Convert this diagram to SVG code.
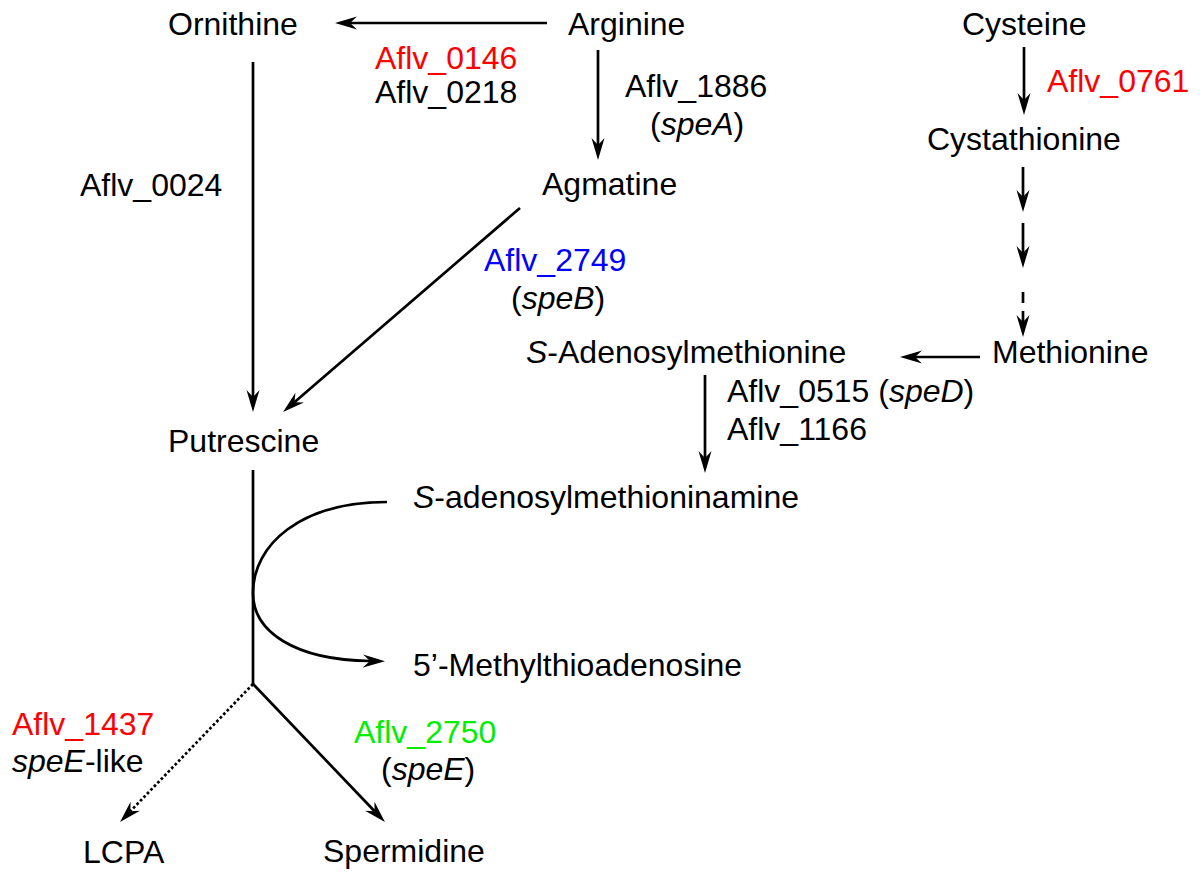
<svg xmlns="http://www.w3.org/2000/svg" width="1200" height="876" viewBox="0 0 1200 876">
<style>
text{font-family:"Liberation Sans",Arial,Helvetica,sans-serif;font-size:32px;fill:#000}
.red{fill:#ff0000}.blue{fill:#0000ff}.green{fill:#00ee00}
.i{font-style:italic}
.c{fill:none;stroke:#000;stroke-width:2.7}
.a{marker-end:url(#ah)}
.dot{stroke-dasharray:2.7 2.3}
</style>
<defs>
<marker id="ah" markerUnits="userSpaceOnUse" markerWidth="26" markerHeight="16" viewBox="0 -8 26 16" refX="7" refY="0" orient="auto">
<path d="M0,-6.5 L22,0 L0,6.5 L7,0 Z" fill="#000"/>
</marker>
</defs>
<rect width="1200" height="876" fill="#fff"/>
<g id="connectors">
<line class="c a" x1="547" y1="23" x2="350" y2="23"/>
<line class="c a" x1="253" y1="62" x2="253" y2="397"/>
<line class="c a" x1="598" y1="50" x2="598" y2="145"/>
<line class="c a" x1="520" y1="208" x2="294.4" y2="402.2"/>
<line class="c a" x1="1024" y1="47" x2="1024" y2="100"/>
<line class="c a" x1="1023" y1="167" x2="1023" y2="197"/>
<line class="c a" x1="1023" y1="223" x2="1023" y2="253"/>
<line class="c" x1="1023" y1="292" x2="1023" y2="303"/>
<line class="c a" x1="1023" y1="311" x2="1023" y2="322"/>
<line class="c a" x1="980" y1="357" x2="915" y2="357"/>
<line class="c a" x1="705" y1="375" x2="705" y2="458"/>
<line class="c" x1="253" y1="470" x2="253" y2="685"/>
<path class="c a" d="M387,502 C300,502 253,545 253,593 C253,632 295,660 370,661"/>
<line class="c a" x1="253" y1="684" x2="374.6" y2="811.2"/>
<line class="c a dot" x1="253" y1="684" x2="130.4" y2="811.2"/>
</g>
<g id="ornithine"><text x="168" y="35">Ornithine</text></g>
<g id="arginine"><text x="568" y="35">Arginine</text></g>
<g id="cysteine"><text x="962" y="35">Cysteine</text></g>
<g id="label-0146-0218"><text class="red" x="375" y="69">Aflv_0146</text><text x="375" y="103">Aflv_0218</text></g>
<g id="label-1886"><text x="625" y="97">Aflv_1886</text><text x="650" y="135">(<tspan class="i">speA</tspan>)</text></g>
<g id="label-0761"><text class="red" x="1047" y="92">Aflv_0761</text></g>
<g id="cystathionine"><text x="927" y="150">Cystathionine</text></g>
<g id="agmatine"><text x="542" y="195">Agmatine</text></g>
<g id="label-0024"><text x="80" y="196">Aflv_0024</text></g>
<g id="label-2749"><text class="blue" x="484" y="271">Aflv_2749</text><text x="511" y="309">(<tspan class="i">speB</tspan>)</text></g>
<g id="sam"><text x="526" y="363"><tspan class="i">S</tspan>-Adenosylmethionine</text></g>
<g id="methionine"><text x="992" y="363">Methionine</text></g>
<g id="label-0515-1166"><text x="727" y="402">Aflv_0515 (<tspan class="i">speD</tspan>)</text><text x="727" y="440">Aflv_1166</text></g>
<g id="putrescine"><text x="168" y="452">Putrescine</text></g>
<g id="samamine"><text x="413" y="508"><tspan class="i">S</tspan>-adenosylmethioninamine</text></g>
<g id="mta"><text x="413" y="676">5’-Methylthioadenosine</text></g>
<g id="label-1437"><text class="red" x="12" y="735">Aflv_1437</text><text x="12" y="772"><tspan class="i">speE</tspan>-like</text></g>
<g id="label-2750"><text class="green" x="354" y="743">Aflv_2750</text><text x="381" y="780">(<tspan class="i">speE</tspan>)</text></g>
<g id="lcpa"><text x="83" y="863">LCPA</text></g>
<g id="spermidine"><text x="323" y="862">Spermidine</text></g>
</svg>
